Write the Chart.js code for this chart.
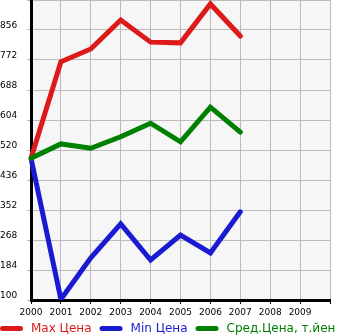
<!DOCTYPE html>
<html>
<head>
<meta charset="utf-8">
<script src="https://cdn.jsdelivr.net/npm/chart.js@4/dist/chart.umd.min.js"></script>
<style>
html,body{margin:0;padding:0;background:#fff;}
#wrap{width:345px;height:335px;position:relative;}
</style>
</head>
<body>
<div id="wrap"><canvas id="c" width="345" height="335"></canvas></div>
<script>
const years = ['2000','2001','2002','2003','2004','2005','2006','2007','2008','2009',''];
const yTicks = [100,184,268,352,436,520,604,688,772,856];
const seriesNames = ['Max Цена','Min Цена','Сред.Цена, т.йен'];
const maxPrice = [497, 767, 803, 884, 822, 820, 929, 839];
const minPrice = [497, 102, 218, 313, 212, 282, 232, 347];
const avgPrice = [497, 537, 525, 557, 595, 543, 640, 570];
const colors = ['rgb(220,26,26)','rgb(26,26,210)','rgb(0,128,0)'];

const bgPlugin = {
  id:'bg',
  beforeDraw(chart){
    const a = chart.chartArea, ctx = chart.ctx;
    ctx.save(); ctx.fillStyle = '#f6f6f6';
    ctx.fillRect(a.left, a.top, a.right-a.left, a.bottom-a.top);
    ctx.restore();
  }
};
const legendPlugin = {
  id:'customLegend',
  afterDraw(chart){
    const ctx = chart.ctx;
    ctx.save();
    ctx.font = '12px "DejaVu Sans"';
    let x = 0; const y = 328.5;
    chart.data.datasets.forEach(ds=>{
      ctx.strokeStyle = ds.borderColor; ctx.lineWidth = 5; ctx.lineCap = 'round';
      ctx.beginPath(); ctx.moveTo(x+2.5, y); ctx.lineTo(x+20.5, y); ctx.stroke();
      ctx.fillStyle = ds.borderColor; ctx.textBaseline = 'alphabetic'; ctx.textAlign='left';
      ctx.fillText(ds.label, x+31, 331.5);
      x += 31 + ctx.measureText(ds.label).width + 8;
    });
    ctx.restore();
  }
};

const mk = (i, data, order) => ({
  label: seriesNames[i], data, borderColor: colors[i], backgroundColor: colors[i],
  borderWidth: 5, pointRadius: 0, tension: 0, fill: false, order,
  borderCapStyle: 'round', borderJoinStyle: 'miter'
});

new Chart(document.getElementById('c'), {
  type: 'line',
  data: {
    labels: years,
    datasets: [mk(0, maxPrice, 1), mk(1, minPrice, 2), mk(2, avgPrice, 0)]
  },
  options: {
    responsive: false, animation: false, devicePixelRatio: 1,
    layout: { padding: { left: 0, right: 15, top: 0, bottom: 17 } },
    plugins: { legend: { display: false }, tooltip: { enabled: false } },
    scales: {
      x: {
        offset: false,
        grid: { color: '#bbbbbb', lineWidth: 1, tickLength: 4, tickColor: '#000' },
        border: { color: '#000', width: 3 },
        ticks: { color: '#000', font: { family: 'DejaVu Sans', size: 9 }, padding: 3, maxRotation: 0, autoSkip: false },
        afterFit(s){ s.height = 18; s.paddingLeft = 0; s.paddingRight = 0; }
      },
      y: {
        min: 100, max: 940,
        afterBuildTicks(s){ s.ticks = yTicks.concat([940]).map(v=>({value:v})); },
        grid: { color: '#bbbbbb', lineWidth: 1, tickLength: 4, tickColor: '#bbbbbb' },
        border: { color: '#000', width: 3 },
        ticks: {
          color: '#000', font: { family: 'DejaVu Sans', size: 9 }, crossAlign: 'far',
          labelOffset: -4, padding: 5,
          callback: v => (v === 940 ? '' : String(v))
        },
        afterFit(s){ s.width = 31; s.paddingTop = 0; s.paddingBottom = 0; }
      }
    }
  },
  plugins: [bgPlugin, legendPlugin]
});
</script>
</body>
</html>
